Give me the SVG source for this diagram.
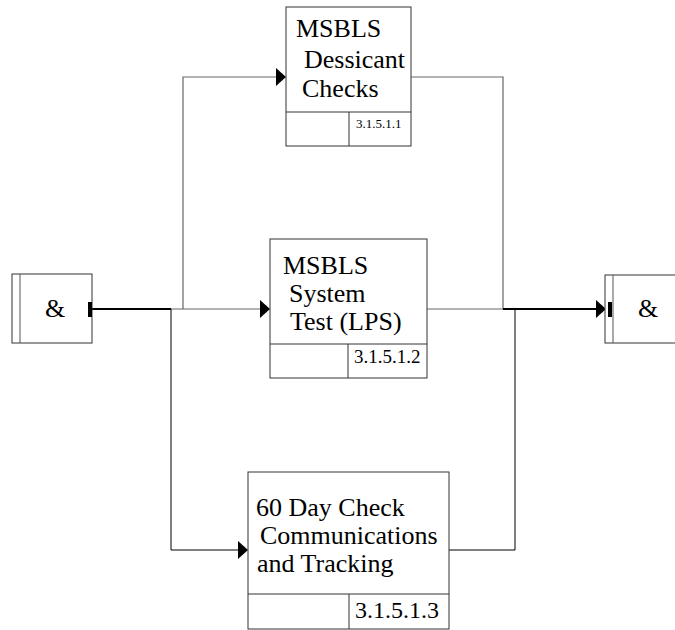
<svg xmlns="http://www.w3.org/2000/svg" width="675" height="630" viewBox="0 0 675 630">
<style>
.box{fill:#fff;stroke:#333;stroke-width:1}
.t{font-family:"Liberation Serif","Times New Roman",serif;font-size:26px;fill:#000}
.c{font-family:"Liberation Serif","Times New Roman",serif;fill:#000}
.g{fill:none;stroke:#666;stroke-width:1.2}
.k{fill:none;stroke:#000;stroke-width:1}
.kb{fill:none;stroke:#000;stroke-width:2}
.ah{fill:#000}
</style>
<rect width="675" height="630" fill="#fff"/>
<g id="connectors">
  <path class="kb" d="M92,309 H171"/>
  <path class="g" d="M171,309 H260"/>
  <path class="g" d="M183,309 V77 H276"/>
  <path class="k" d="M171,309 V550 H238"/>
  <path class="g" d="M411,77 H503 V309"/>
  <path class="g" d="M427,309 H503"/>
  <path class="kb" d="M503,309 H597"/>
  <path class="k" d="M449,550 H515 V309"/>
  <polygon class="ah" points="276,68 286,77 276,86"/>
  <polygon class="ah" points="260,300 270,309 260,318"/>
  <polygon class="ah" points="238,541 248,550 238,559"/>
  <polygon class="ah" points="596,300 606,309 596,318"/>
</g>
<g id="and-left">
  <rect class="box" x="12" y="274" width="80" height="69"/>
  <line x1="20" y1="274" x2="20" y2="343" stroke="#555"/>
  <rect x="88" y="302" width="4" height="15" fill="#000"/>
  <text class="t" x="55" y="317" text-anchor="middle">&amp;</text>
</g>
<g id="node-3.1.5.1.1">
  <rect class="box" x="286" y="7" width="125" height="139"/>
  <line x1="286" y1="112" x2="411" y2="112" stroke="#333"/>
  <line x1="349" y1="112" x2="349" y2="146" stroke="#333"/>
  <text class="t" x="296" y="37">MSBLS</text>
  <text class="t" x="304" y="68">Dessicant</text>
  <text class="t" x="302" y="97">Checks</text>
  <text class="c" x="356" y="128" font-size="13">3.1.5.1.1</text>
</g>
<g id="node-3.1.5.1.2">
  <rect class="box" x="270" y="239" width="157" height="139"/>
  <line x1="270" y1="344" x2="427" y2="344" stroke="#333"/>
  <line x1="348" y1="344" x2="348" y2="378" stroke="#333"/>
  <text class="t" x="283" y="274">MSBLS</text>
  <text class="t" x="289" y="302">System</text>
  <text class="t" x="290" y="330">Test (LPS)</text>
  <text class="c" x="354" y="363" font-size="19">3.1.5.1.2</text>
</g>
<g id="node-3.1.5.1.3">
  <rect class="box" x="248" y="472" width="201" height="157"/>
  <line x1="248" y1="594" x2="449" y2="594" stroke="#333"/>
  <line x1="349" y1="594" x2="349" y2="629" stroke="#333"/>
  <text class="t" x="256" y="516" font-size="25">60 Day Check</text>
  <text class="t" x="260" y="544" font-size="25">Communications</text>
  <text class="t" x="257" y="572" font-size="25">and Tracking</text>
  <text class="c" x="355" y="618" font-size="24">3.1.5.1.3</text>
</g>
<g id="and-right">
  <rect class="box" x="605" y="275" width="75" height="68"/>
  <line x1="613" y1="275" x2="613" y2="343" stroke="#555"/>
  <rect x="608" y="302" width="4" height="15" fill="#000"/>
  <text class="t" x="648" y="317" text-anchor="middle">&amp;</text>
</g>
</svg>
